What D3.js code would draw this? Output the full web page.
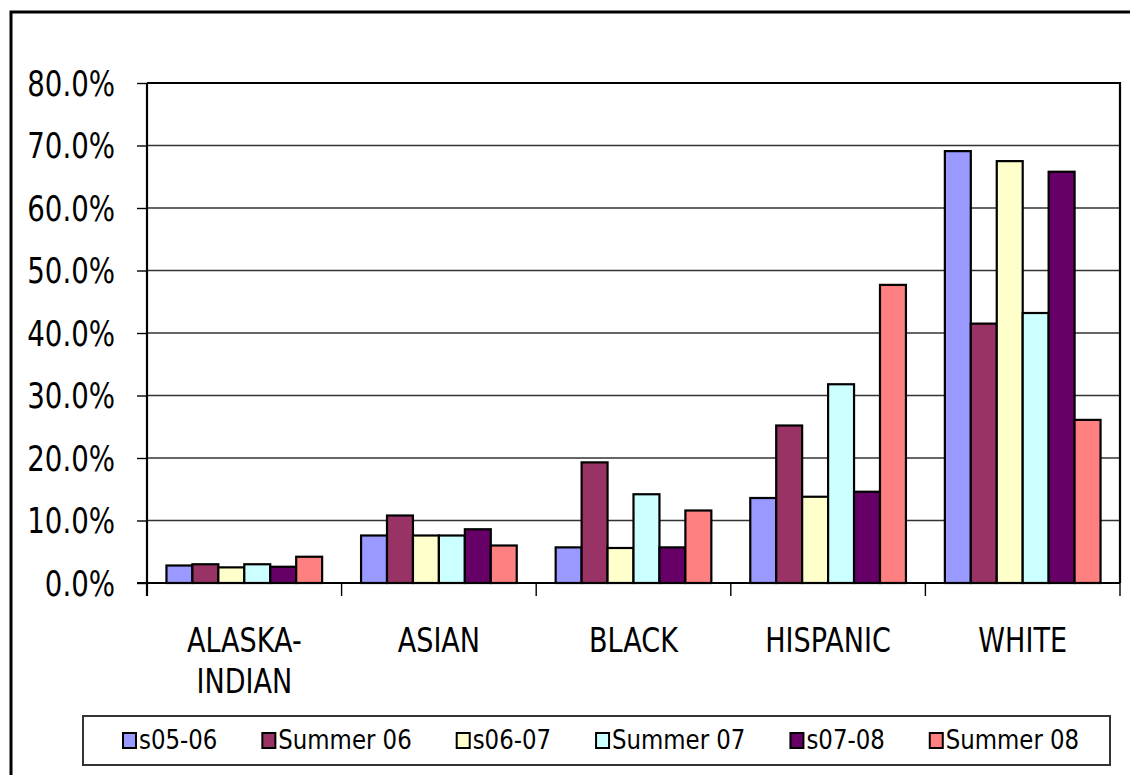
<!DOCTYPE html>
<html>
<meta charset="utf-8">
<script src="https://d3js.org/d3.v7.min.js"></script>
<style>
  body { margin: 0; background: #fff; }
  text { font-family: "DejaVu Sans", sans-serif; fill: #000; }
</style>
<body>
<div id="chart"></div>
<script>
// categories and series
var groups = ["ALASKA-INDIAN", "ASIAN", "BLACK", "HISPANIC", "WHITE"];
var groupLines = [["ALASKA-", "INDIAN"], ["ASIAN"], ["BLACK"], ["HISPANIC"], ["WHITE"]];
var seriesNames = ["s05-06", "Summer 06", "s06-07", "Summer 07", "s07-08", "Summer 08"];
var seriesColors = ["#9999FF", "#993366", "#FFFFCC", "#CCFFFF", "#660066", "#FF8080"];

// percent values, one array per series (order follows groups)
var s0506     = [2.8, 7.6, 5.7, 13.6, 69.1];
var summer06  = [3.0, 10.8, 19.3, 25.2, 41.5];
var s0607     = [2.5, 7.6, 5.6, 13.8, 67.5];
var summer07  = [3.0, 7.6, 14.2, 31.8, 43.2];
var s0708     = [2.6, 8.6, 5.7, 14.6, 65.8];
var summer08  = [4.2, 6.0, 11.6, 47.7, 26.1];
var allSeries = [s0506, summer06, s0607, summer07, s0708, summer08];

var yTicks = [0, 10, 20, 30, 40, 50, 60, 70, 80];

var W = 1130, H = 775;
var plot = {left: 147, right: 1120, top: 83, bottom: 583};

var svg = d3.select("#chart").append("svg")
    .attr("width", W)
    .attr("height", H);

// outer frame (runs off the right/bottom edge)
svg.append("rect")
    .attr("x", 11).attr("y", 12)
    .attr("width", W + 20).attr("height", H + 20)
    .attr("fill", "#fff")
    .attr("stroke", "#000")
    .attr("stroke-width", 3);

var y = d3.scaleLinear()
    .domain([0, 80])
    .range([plot.bottom, plot.top]);

var x0 = d3.scaleBand()
    .domain(groups)
    .range([plot.left, plot.right])
    .padding(0);

var x1 = d3.scaleBand()
    .domain(seriesNames)
    .range([0, x0.bandwidth()])
    .paddingInner(0)
    .paddingOuter(0.75);

// gridlines
svg.append("g").selectAll("line")
    .data(yTicks.slice(1, -1))
    .enter().append("line")
    .attr("x1", plot.left).attr("x2", plot.right)
    .attr("y1", function(d) { return y(d); })
    .attr("y2", function(d) { return y(d); })
    .attr("stroke", "#333")
    .attr("stroke-width", 1.4);

// plot area top + right border
svg.append("path")
    .attr("d", "M" + plot.left + "," + y(80) + "H" + plot.right + "V" + y(0))
    .attr("fill", "none")
    .attr("stroke", "#000")
    .attr("stroke-width", 2.2);

// bars
var bars = [];
groups.forEach(function(g, gi) {
  seriesNames.forEach(function(s, si) {
    bars.push({group: g, series: s, si: si, value: allSeries[si][gi]});
  });
});

svg.append("g").selectAll("rect")
    .data(bars)
    .enter().append("rect")
    .attr("x", function(d) { return x0(d.group) + x1(d.series); })
    .attr("y", function(d) { return y(d.value); })
    .attr("width", x1.bandwidth())
    .attr("height", function(d) { return y(0) - y(d.value); })
    .attr("fill", function(d) { return seriesColors[d.si]; })
    .attr("stroke", "#000")
    .attr("stroke-width", 2.2);

// y axis
var yAxis = svg.append("g")
    .attr("transform", "translate(" + plot.left + ",0)")
    .call(d3.axisLeft(y).tickValues(yTicks).tickSize(10).tickPadding(0)
      .tickFormat(function(d) { return d.toFixed(1) + "%"; }));
yAxis.select(".domain").attr("stroke", "#000").attr("stroke-width", 2.2)
    .attr("d", "M0," + y(80) + "V" + (y(0) + 13));
yAxis.selectAll(".tick line").attr("stroke", "#000").attr("stroke-width", 1.4);
var ySx = 0.79;
yAxis.selectAll(".tick text")
    .attr("font-family", "DejaVu Sans")
    .attr("font-size", 35)
    .attr("fill", "#000")
    .attr("x", 0).attr("dy", 0)
    .attr("y", 0)
    .attr("transform", "translate(-32,12) scale(" + ySx + ",1)");

// x axis line with ticks at group edges
svg.append("line")
    .attr("x1", plot.left - 10).attr("x2", plot.right)
    .attr("y1", y(0)).attr("y2", y(0))
    .attr("stroke", "#000").attr("stroke-width", 2.2);

var edges = groups.map(function(g) { return x0(g); }).concat([plot.right]);
svg.append("g").selectAll("line")
    .data(edges)
    .enter().append("line")
    .attr("x1", function(d) { return d; }).attr("x2", function(d) { return d; })
    .attr("y1", y(0)).attr("y2", y(0) + 13)
    .attr("stroke", "#000").attr("stroke-width", 1.4);

// category labels
var cSx = 0.82;
var cat = svg.append("g").selectAll("g")
    .data(groups)
    .enter().append("g")
    .attr("transform", function(d) {
      return "translate(" + (x0(d) + x0.bandwidth() / 2) + ",652) scale(" + cSx + ",1)";
    });
cat.selectAll("text")
    .data(function(d, i) { return groupLines[i]; })
    .enter().append("text")
    .attr("text-anchor", "middle")
    .attr("font-size", 33)
    .attr("y", function(d, i) { return i * 41.5; })
    .text(function(d) { return d; });

// legend
svg.append("rect")
    .attr("x", 83).attr("y", 716)
    .attr("width", 1027).attr("height", 49)
    .attr("fill", "#fff")
    .attr("stroke", "#333")
    .attr("stroke-width", 2);

var lSx = 0.88;
var lx = 122;
seriesNames.forEach(function(s, i) {
  svg.append("rect")
      .attr("x", lx + 1).attr("y", 733)
      .attr("width", 13).attr("height", 15)
      .attr("fill", seriesColors[i])
      .attr("stroke", "#000")
      .attr("stroke-width", 2);
  var t = svg.append("text")
      .attr("font-size", 26)
      .attr("transform", "translate(" + (lx + 17) + ",749) scale(" + lSx + ",1)")
      .text(s);
  var tw = t.node().getComputedTextLength() * lSx;
  lx = lx + 17 + tw + 44;
});
</script>
</body>
</html>
